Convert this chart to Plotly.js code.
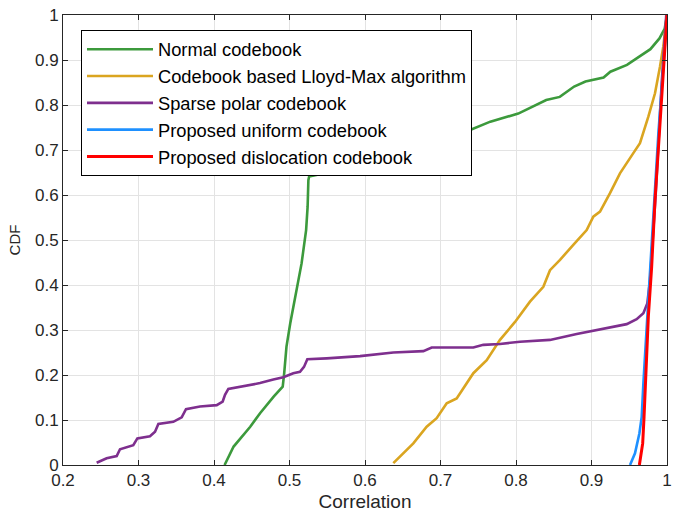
<!DOCTYPE html>
<html><head><meta charset="utf-8">
<script src="https://cdn.plot.ly/plotly-3.0.1.min.js"></script>
<style>body{margin:0;background:#fff}#chart{width:680px;height:512px}</style>
</head><body><div id="chart"></div>
<script>
const seriesNames = ["Normal codebook","Codebook based Lloyd-Max algorithm","Sparse polar codebook","Proposed uniform codebook","Proposed dislocation codebook"];
const seriesColors = ["#3c9a3c","#daa520","#7e2f8e","#1e90ff","#ff0000"];

const normalX = [0.414,0.426,0.448,0.461,0.479,0.491,0.493,0.496,0.501,0.510,0.516,0.522,0.524,0.525,0.526,0.545,0.568,0.594,0.62,0.66,0.70,0.74,0.766,0.803,0.840,0.858,0.877,0.892,0.916,0.925,0.947,0.960,0.964,0.978,0.990,0.997,1.0];
const normalY = [0,0.041,0.085,0.115,0.152,0.174,0.204,0.263,0.315,0.396,0.448,0.522,0.574,0.633,0.641,0.648,0.656,0.670,0.685,0.705,0.725,0.745,0.763,0.781,0.811,0.818,0.841,0.852,0.861,0.874,0.889,0.904,0.907,0.924,0.948,0.97,1.0];

const lloydX = [0.6375,0.6507,0.6640,0.6817,0.6949,0.7082,0.7214,0.7435,0.7612,0.7788,0.7987,0.8185,0.8362,0.8450,0.8583,0.8759,0.8936,0.9024,0.9113,0.9245,0.9289,0.9377,0.9554,0.9642,0.9753,0.9841,0.9907,0.9951,1.0];
const lloydY = [0.004,0.026,0.048,0.085,0.104,0.137,0.148,0.204,0.233,0.278,0.318,0.363,0.396,0.433,0.456,0.489,0.522,0.552,0.563,0.604,0.619,0.648,0.693,0.715,0.774,0.826,0.885,0.93,1.0];

const sparseX = [0.2446,0.2578,0.2711,0.2755,0.2931,0.2985,0.3152,0.3219,0.3263,0.3461,0.3572,0.3629,0.3815,0.4036,0.4115,0.4146,0.4190,0.4433,0.4609,0.4786,0.4918,0.5050,0.5139,0.5192,0.5236,0.5492,0.5934,0.6375,0.6773,0.6883,0.7435,0.7567,0.7788,0.8053,0.8450,0.8804,0.9024,0.9201,0.9466,0.9598,0.9687,0.9739,0.9775,0.985,0.993,0.999];
const sparseY = [0.005,0.015,0.02,0.035,0.044,0.059,0.064,0.074,0.091,0.096,0.106,0.124,0.130,0.133,0.141,0.156,0.169,0.176,0.182,0.190,0.195,0.204,0.207,0.218,0.235,0.237,0.242,0.250,0.253,0.261,0.261,0.267,0.269,0.274,0.278,0.291,0.298,0.304,0.313,0.324,0.337,0.359,0.411,0.6,0.85,1.0];

const uniformX = [0.951,0.9576,0.9634,0.9665,0.9687,0.9722,0.9766,0.9819,0.9886,0.9951,1.0];
const uniformY = [0,0.026,0.070,0.107,0.181,0.293,0.404,0.552,0.737,0.885,1.0];

const dislocX = [0.9634,0.9678,0.9696,0.9722,0.9753,0.9797,0.9841,0.9899,0.9951,1.0];
const dislocY = [0,0.048,0.107,0.218,0.330,0.441,0.589,0.737,0.885,1.0];

const xTicks = [0.2,0.3,0.4,0.5,0.6,0.7,0.8,0.9,1];
const yTicks = [0,0.1,0.2,0.3,0.4,0.5,0.6,0.7,0.8,0.9,1];

const xs = [normalX, lloydX, sparseX, uniformX, dislocX];
const ys = [normalY, lloydY, sparseY, uniformY, dislocY];
const widths = [2.6,2.6,2.6,2.6,3];

const traces = seriesNames.map((n,i)=>({
  type:'scatter', mode:'lines', name:n, x:xs[i], y:ys[i],
  line:{color:seriesColors[i], width:widths[i]}
}));

const FONT = 'Liberation Sans, Arial, sans-serif';
const axisCommon = {
  showline:true, linecolor:'#262626', linewidth:1, mirror:'ticks',
  ticks:'inside', ticklen:5, tickcolor:'#262626',
  showgrid:true, gridcolor:'#e3e3e3', gridwidth:1, zeroline:false,
  tickfont:{family:FONT, size:17, color:'#262626'}
};

const layout = {
  width:680, height:512,
  margin:{l:63, r:13, t:15, b:47},
  paper_bgcolor:'#fff', plot_bgcolor:'#fff',
  font:{family:FONT, color:'#262626'},
  xaxis:Object.assign({}, axisCommon, {
    range:[0.2,1], tickvals:xTicks, ticktext:xTicks.map(String),
    title:{text:'Correlation', font:{size:19, color:'#262626'}, standoff:9}
  }),
  yaxis:Object.assign({}, axisCommon, {
    range:[0,1], tickvals:yTicks, ticktext:yTicks.map(String),
    title:{text:'CDF', font:{size:15, color:'#262626'}, standoff:10}
  }),
  legend:{
    x:0.0298, y:0.967, xanchor:'left', yanchor:'top',
    bgcolor:'#ffffff', bordercolor:'#000000', borderwidth:1,
    font:{family:FONT, size:18.3, color:'#000'},
    itemwidth:66, tracegroupgap:0
  },
  showlegend:true
};

Plotly.newPlot('chart', traces, layout, {displayModeBar:false, staticPlot:true});
</script>
</body></html>
